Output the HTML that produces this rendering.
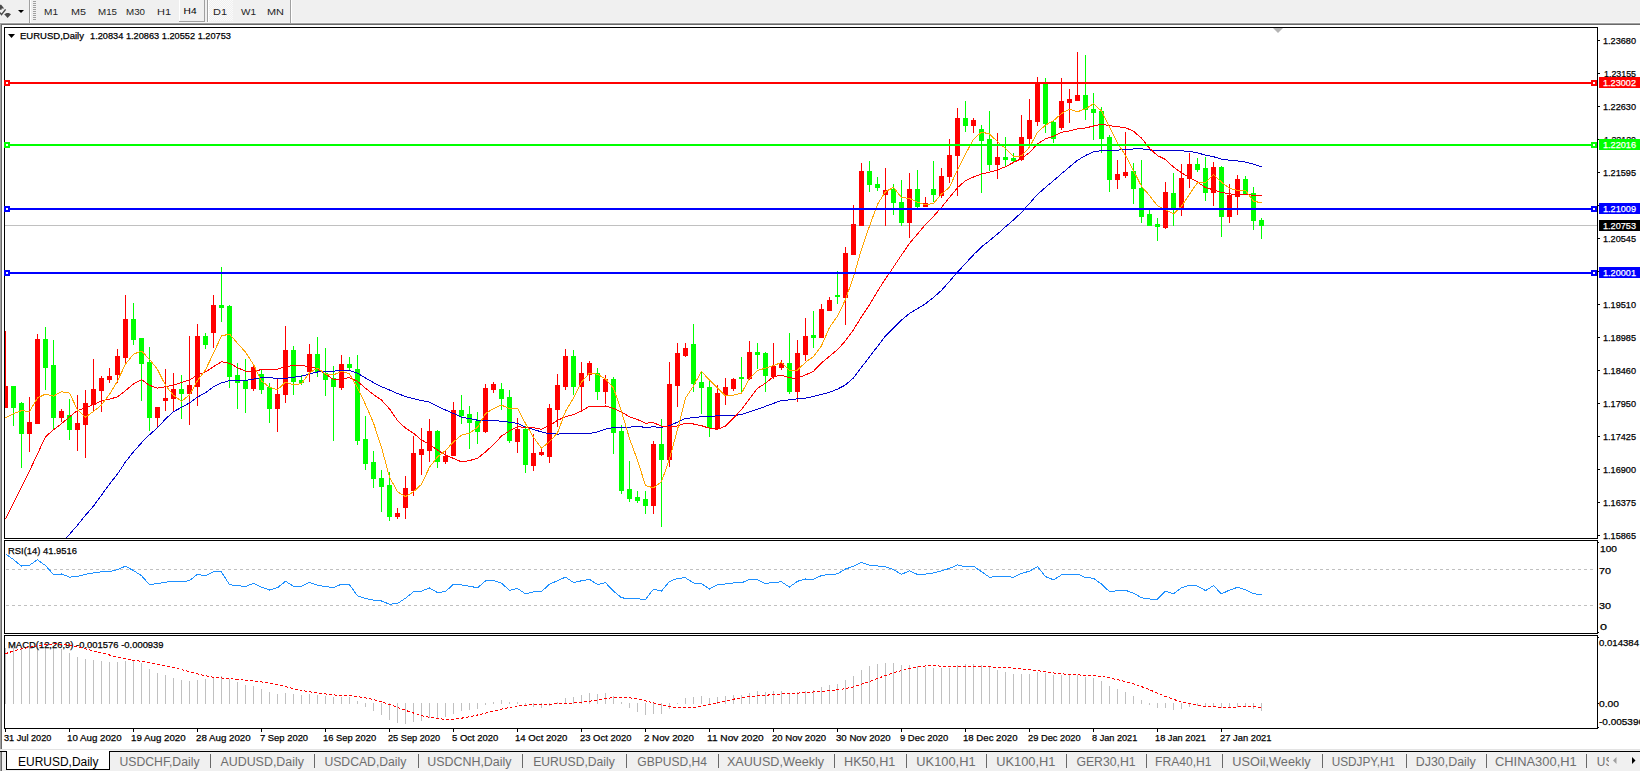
<!DOCTYPE html>
<html><head><meta charset="utf-8"><title>EURUSD,Daily</title>
<style>html,body{margin:0;padding:0;background:#f0f0f0;overflow:hidden;width:1640px;height:771px} svg{display:block} text{font-family:"Liberation Sans", sans-serif;}</style>
</head><body>
<svg width="1640" height="771" viewBox="0 0 1640 771" font-family='"Liberation Sans", sans-serif'><rect x="0" y="0" width="1640" height="771" fill="#f0f0f0"/>
<rect x="0" y="22" width="1640" height="1" fill="#f8f8f8"/>
<rect x="0" y="23" width="1640" height="1" fill="#a0a0a0"/>
<rect x="1" y="24" width="1639" height="1" fill="#696969"/>
<rect x="2" y="25" width="1638" height="724" fill="#ffffff"/>
<rect x="0" y="23" width="1" height="726" fill="#a0a0a0"/>
<rect x="1" y="24" width="1" height="725" fill="#696969"/>
<rect x="0" y="749" width="1640" height="1" fill="#e3e3e3"/>
<path d="M0 4.8 L1.2 4.8 L4.2 8.6 L1.6 8.6 L1.6 9.8 L0 9.8 Z" fill="#4a4a4a"/>
<path d="M0 12.6 L1.5 14.6 L5.6 9.4" stroke="#4a4a4a" stroke-width="1.5" fill="none"/>
<path d="M4.2 14.2 L6.6 13.1 L8.8 13.1 L11 14.2 L7.6 18 Z" fill="#4a4a4a"/>
<path d="M18 10 L24 10 L21 13 Z" fill="#000"/>
<rect x="29" y="0" width="1" height="23" fill="#a0a0a0"/>
<rect x="30" y="0" width="1" height="23" fill="#ffffff"/>
<rect x="33" y="1" width="3" height="1" fill="#a0a0a0"/>
<rect x="33" y="3" width="3" height="1" fill="#a0a0a0"/>
<rect x="33" y="5" width="3" height="1" fill="#a0a0a0"/>
<rect x="33" y="7" width="3" height="1" fill="#a0a0a0"/>
<rect x="33" y="9" width="3" height="1" fill="#a0a0a0"/>
<rect x="33" y="11" width="3" height="1" fill="#a0a0a0"/>
<rect x="33" y="13" width="3" height="1" fill="#a0a0a0"/>
<rect x="33" y="15" width="3" height="1" fill="#a0a0a0"/>
<rect x="33" y="17" width="3" height="1" fill="#a0a0a0"/>
<rect x="33" y="19" width="3" height="1" fill="#a0a0a0"/>
<rect x="179" y="0" width="26" height="22" fill="#f0f0f0"/>
<rect x="179" y="0" width="1" height="22" fill="#ffffff"/>
<rect x="204" y="0" width="1" height="22" fill="#a0a0a0"/>
<rect x="179" y="21" width="26" height="1" fill="#a0a0a0"/>
<rect x="207" y="0" width="1" height="22" fill="#a0a0a0"/>
<rect x="208" y="0" width="1" height="22" fill="#ffffff"/>
<defs><pattern id="chk" width="2" height="2" patternUnits="userSpaceOnUse"><rect width="2" height="2" fill="#f0f0f0"/><rect width="1" height="1" fill="#fafafa"/><rect x="1" y="1" width="1" height="1" fill="#fafafa"/></pattern>
<clipPath id="mainclip"><rect x="5" y="28" width="1592" height="510"/></clipPath>
<clipPath id="rsiclip"><rect x="5" y="541" width="1592" height="92"/></clipPath>
<clipPath id="macdclip"><rect x="5" y="636" width="1592" height="92"/></clipPath>
<clipPath id="tabclip"><rect x="0" y="752" width="1609" height="19"/></clipPath>
</defs>
<rect x="209" y="0" width="24" height="21" fill="url(#chk)"/>
<rect x="290" y="0" width="1" height="23" fill="#a0a0a0"/>
<rect x="291" y="0" width="1" height="23" fill="#ffffff"/>
<text x="44.00" y="15.00" font-size="9.8" fill="#262626" stroke="#262626" stroke-width="0" textLength="14.00" lengthAdjust="spacingAndGlyphs">M1</text>
<text x="71.00" y="15.00" font-size="9.8" fill="#262626" stroke="#262626" stroke-width="0" textLength="15.00" lengthAdjust="spacingAndGlyphs">M5</text>
<text x="98.00" y="15.00" font-size="9.8" fill="#262626" stroke="#262626" stroke-width="0" textLength="19.00" lengthAdjust="spacingAndGlyphs">M15</text>
<text x="126.00" y="15.00" font-size="9.8" fill="#262626" stroke="#262626" stroke-width="0" textLength="19.00" lengthAdjust="spacingAndGlyphs">M30</text>
<text x="157.00" y="15.00" font-size="9.8" fill="#262626" stroke="#262626" stroke-width="0" textLength="14.00" lengthAdjust="spacingAndGlyphs">H1</text>
<text x="213.00" y="15.00" font-size="9.8" fill="#262626" stroke="#262626" stroke-width="0" textLength="14.00" lengthAdjust="spacingAndGlyphs">D1</text>
<text x="241.00" y="15.00" font-size="9.8" fill="#262626" stroke="#262626" stroke-width="0" textLength="15.00" lengthAdjust="spacingAndGlyphs">W1</text>
<text x="267.00" y="15.00" font-size="9.8" fill="#262626" stroke="#262626" stroke-width="0" textLength="17.00" lengthAdjust="spacingAndGlyphs">MN</text>
<text x="183.60" y="14.00" font-size="9.8" fill="#000" stroke="#000" stroke-width="0" textLength="13.00" lengthAdjust="spacingAndGlyphs">H4</text>
<rect x="4" y="27" width="1594" height="1" fill="#000"/>
<rect x="4" y="538" width="1594" height="1" fill="#000"/>
<rect x="4" y="27" width="1" height="512" fill="#000"/>
<rect x="1597" y="27" width="1" height="512" fill="#000"/>
<rect x="4" y="540" width="1594" height="1" fill="#000"/>
<rect x="4" y="633" width="1594" height="1" fill="#000"/>
<rect x="4" y="540" width="1" height="94" fill="#000"/>
<rect x="1597" y="540" width="1" height="94" fill="#000"/>
<rect x="4" y="635" width="1594" height="1" fill="#000"/>
<rect x="4" y="728" width="1594" height="1" fill="#000"/>
<rect x="4" y="635" width="1" height="94" fill="#000"/>
<rect x="1597" y="635" width="1" height="94" fill="#000"/>
<rect x="1598" y="40" width="2" height="1" fill="#000"/>
<text x="1603.00" y="44.00" font-size="9.8" fill="#000" stroke="#000" stroke-width="0.25" textLength="33.00" lengthAdjust="spacingAndGlyphs">1.23680</text>
<rect x="1598" y="73" width="2" height="1" fill="#000"/>
<text x="1604.00" y="77.00" font-size="9.8" fill="#000" stroke="#000" stroke-width="0.25" textLength="32.00" lengthAdjust="spacingAndGlyphs">1.23155</text>
<rect x="1598" y="106" width="2" height="1" fill="#000"/>
<text x="1603.00" y="110.00" font-size="9.8" fill="#000" stroke="#000" stroke-width="0.25" textLength="33.00" lengthAdjust="spacingAndGlyphs">1.22630</text>
<rect x="1598" y="139" width="2" height="1" fill="#000"/>
<text x="1604.00" y="143.00" font-size="9.8" fill="#000" stroke="#000" stroke-width="0.25" textLength="32.00" lengthAdjust="spacingAndGlyphs">1.22120</text>
<rect x="1598" y="172" width="2" height="1" fill="#000"/>
<text x="1603.00" y="176.00" font-size="9.8" fill="#000" stroke="#000" stroke-width="0.25" textLength="33.00" lengthAdjust="spacingAndGlyphs">1.21595</text>
<rect x="1598" y="205" width="2" height="1" fill="#000"/>
<text x="1604.00" y="209.00" font-size="9.8" fill="#000" stroke="#000" stroke-width="0.25" textLength="32.00" lengthAdjust="spacingAndGlyphs">1.21085</text>
<rect x="1598" y="238" width="2" height="1" fill="#000"/>
<text x="1603.00" y="242.00" font-size="9.8" fill="#000" stroke="#000" stroke-width="0.25" textLength="33.00" lengthAdjust="spacingAndGlyphs">1.20545</text>
<rect x="1598" y="271" width="2" height="1" fill="#000"/>
<text x="1604.00" y="275.00" font-size="9.8" fill="#000" stroke="#000" stroke-width="0.25" textLength="32.00" lengthAdjust="spacingAndGlyphs">1.20035</text>
<rect x="1598" y="304" width="2" height="1" fill="#000"/>
<text x="1603.00" y="308.00" font-size="9.8" fill="#000" stroke="#000" stroke-width="0.25" textLength="33.00" lengthAdjust="spacingAndGlyphs">1.19510</text>
<rect x="1598" y="337" width="2" height="1" fill="#000"/>
<text x="1603.00" y="341.00" font-size="9.8" fill="#000" stroke="#000" stroke-width="0.25" textLength="33.00" lengthAdjust="spacingAndGlyphs">1.18985</text>
<rect x="1598" y="370" width="2" height="1" fill="#000"/>
<text x="1603.00" y="374.00" font-size="9.8" fill="#000" stroke="#000" stroke-width="0.25" textLength="33.00" lengthAdjust="spacingAndGlyphs">1.18460</text>
<rect x="1598" y="403" width="2" height="1" fill="#000"/>
<text x="1603.00" y="407.00" font-size="9.8" fill="#000" stroke="#000" stroke-width="0.25" textLength="33.00" lengthAdjust="spacingAndGlyphs">1.17950</text>
<rect x="1598" y="436" width="2" height="1" fill="#000"/>
<text x="1603.00" y="440.00" font-size="9.8" fill="#000" stroke="#000" stroke-width="0.25" textLength="33.00" lengthAdjust="spacingAndGlyphs">1.17425</text>
<rect x="1598" y="469" width="2" height="1" fill="#000"/>
<text x="1603.00" y="473.00" font-size="9.8" fill="#000" stroke="#000" stroke-width="0.25" textLength="33.00" lengthAdjust="spacingAndGlyphs">1.16900</text>
<rect x="1598" y="502" width="2" height="1" fill="#000"/>
<text x="1603.00" y="506.00" font-size="9.8" fill="#000" stroke="#000" stroke-width="0.25" textLength="33.00" lengthAdjust="spacingAndGlyphs">1.16375</text>
<rect x="1598" y="535" width="2" height="1" fill="#000"/>
<text x="1603.00" y="539.00" font-size="9.8" fill="#000" stroke="#000" stroke-width="0.25" textLength="33.00" lengthAdjust="spacingAndGlyphs">1.15865</text>
<rect x="5" y="225" width="1592" height="1" fill="#c0c0c0"/>
<rect x="1599" y="220" width="41" height="11" fill="#000"/>
<text x="1603.00" y="229.00" font-size="9.8" fill="#fff" stroke="#fff" stroke-width="0.25" textLength="33.00" lengthAdjust="spacingAndGlyphs">1.20753</text>
<path d="M8 34 L15 34 L11.5 38 Z" fill="#000"/>
<text x="20.00" y="39.00" font-size="9.8" fill="#000" stroke="#000" stroke-width="0.25" textLength="64.00" lengthAdjust="spacingAndGlyphs">EURUSD,Daily</text>
<text x="90.00" y="39.00" font-size="9.8" fill="#000" stroke="#000" stroke-width="0.25" textLength="141.00" lengthAdjust="spacingAndGlyphs">1.20834 1.20863 1.20552 1.20753</text>
<path d="M1273 28 L1283 28 L1278 33 Z" fill="#b4b4b4"/>
<g clip-path="url(#mainclip)" shape-rendering="crispEdges">
<rect x="5" y="331" width="1" height="77" fill="#ff0000"/>
<rect x="3" y="386" width="5" height="22" fill="#ff0000"/>
<rect x="13" y="386" width="1" height="40" fill="#00ff00"/>
<rect x="11" y="386" width="5" height="22" fill="#00ff00"/>
<rect x="21" y="402" width="1" height="66" fill="#00ff00"/>
<rect x="19" y="403" width="5" height="31" fill="#00ff00"/>
<rect x="29" y="397" width="1" height="55" fill="#ff0000"/>
<rect x="27" y="422" width="5" height="12" fill="#ff0000"/>
<rect x="37" y="334" width="1" height="90" fill="#ff0000"/>
<rect x="35" y="339" width="5" height="85" fill="#ff0000"/>
<rect x="45" y="327" width="1" height="63" fill="#00ff00"/>
<rect x="43" y="339" width="5" height="29" fill="#00ff00"/>
<rect x="53" y="340" width="1" height="89" fill="#00ff00"/>
<rect x="51" y="365" width="5" height="53" fill="#00ff00"/>
<rect x="61" y="409" width="1" height="13" fill="#ff0000"/>
<rect x="59" y="411" width="5" height="7" fill="#ff0000"/>
<rect x="69" y="399" width="1" height="41" fill="#00ff00"/>
<rect x="67" y="415" width="5" height="15" fill="#00ff00"/>
<rect x="77" y="395" width="1" height="56" fill="#ff0000"/>
<rect x="75" y="423" width="5" height="7" fill="#ff0000"/>
<rect x="85" y="390" width="1" height="68" fill="#ff0000"/>
<rect x="83" y="403" width="5" height="22" fill="#ff0000"/>
<rect x="93" y="359" width="1" height="53" fill="#ff0000"/>
<rect x="91" y="389" width="5" height="16" fill="#ff0000"/>
<rect x="101" y="376" width="1" height="36" fill="#ff0000"/>
<rect x="99" y="378" width="5" height="13" fill="#ff0000"/>
<rect x="109" y="368" width="1" height="15" fill="#ff0000"/>
<rect x="107" y="376" width="5" height="4" fill="#ff0000"/>
<rect x="117" y="349" width="1" height="34" fill="#ff0000"/>
<rect x="115" y="356" width="5" height="19" fill="#ff0000"/>
<rect x="125" y="295" width="1" height="70" fill="#ff0000"/>
<rect x="123" y="319" width="5" height="39" fill="#ff0000"/>
<rect x="133" y="303" width="1" height="42" fill="#00ff00"/>
<rect x="131" y="319" width="5" height="21" fill="#00ff00"/>
<rect x="141" y="338" width="1" height="63" fill="#00ff00"/>
<rect x="139" y="338" width="5" height="26" fill="#00ff00"/>
<rect x="149" y="347" width="1" height="84" fill="#00ff00"/>
<rect x="147" y="362" width="5" height="56" fill="#00ff00"/>
<rect x="157" y="407" width="1" height="20" fill="#ff0000"/>
<rect x="155" y="407" width="5" height="11" fill="#ff0000"/>
<rect x="165" y="369" width="1" height="42" fill="#ff0000"/>
<rect x="163" y="398" width="5" height="3" fill="#ff0000"/>
<rect x="173" y="373" width="1" height="38" fill="#ff0000"/>
<rect x="171" y="389" width="5" height="10" fill="#ff0000"/>
<rect x="181" y="375" width="1" height="44" fill="#00ff00"/>
<rect x="179" y="389" width="5" height="5" fill="#00ff00"/>
<rect x="189" y="336" width="1" height="89" fill="#ff0000"/>
<rect x="187" y="385" width="5" height="9" fill="#ff0000"/>
<rect x="197" y="324" width="1" height="82" fill="#ff0000"/>
<rect x="195" y="336" width="5" height="51" fill="#ff0000"/>
<rect x="205" y="333" width="1" height="16" fill="#00ff00"/>
<rect x="203" y="336" width="5" height="9" fill="#00ff00"/>
<rect x="213" y="295" width="1" height="53" fill="#ff0000"/>
<rect x="211" y="305" width="5" height="28" fill="#ff0000"/>
<rect x="221" y="267" width="1" height="55" fill="#00ff00"/>
<rect x="219" y="305" width="5" height="3" fill="#00ff00"/>
<rect x="229" y="305" width="1" height="83" fill="#00ff00"/>
<rect x="227" y="306" width="5" height="71" fill="#00ff00"/>
<rect x="237" y="363" width="1" height="46" fill="#00ff00"/>
<rect x="235" y="375" width="5" height="8" fill="#00ff00"/>
<rect x="245" y="359" width="1" height="54" fill="#00ff00"/>
<rect x="243" y="381" width="5" height="8" fill="#00ff00"/>
<rect x="253" y="365" width="1" height="26" fill="#ff0000"/>
<rect x="251" y="367" width="5" height="22" fill="#ff0000"/>
<rect x="261" y="370" width="1" height="24" fill="#00ff00"/>
<rect x="259" y="374" width="5" height="16" fill="#00ff00"/>
<rect x="269" y="383" width="1" height="40" fill="#00ff00"/>
<rect x="267" y="387" width="5" height="22" fill="#00ff00"/>
<rect x="277" y="379" width="1" height="53" fill="#ff0000"/>
<rect x="275" y="394" width="5" height="15" fill="#ff0000"/>
<rect x="285" y="326" width="1" height="77" fill="#ff0000"/>
<rect x="283" y="350" width="5" height="45" fill="#ff0000"/>
<rect x="293" y="346" width="1" height="49" fill="#00ff00"/>
<rect x="291" y="350" width="5" height="32" fill="#00ff00"/>
<rect x="301" y="375" width="1" height="10" fill="#00ff00"/>
<rect x="299" y="380" width="5" height="3" fill="#00ff00"/>
<rect x="309" y="344" width="1" height="38" fill="#ff0000"/>
<rect x="307" y="354" width="5" height="18" fill="#ff0000"/>
<rect x="317" y="337" width="1" height="40" fill="#00ff00"/>
<rect x="315" y="354" width="5" height="18" fill="#00ff00"/>
<rect x="325" y="348" width="1" height="48" fill="#00ff00"/>
<rect x="323" y="373" width="5" height="7" fill="#00ff00"/>
<rect x="333" y="366" width="1" height="75" fill="#00ff00"/>
<rect x="331" y="378" width="5" height="9" fill="#00ff00"/>
<rect x="341" y="355" width="1" height="35" fill="#ff0000"/>
<rect x="339" y="364" width="5" height="24" fill="#ff0000"/>
<rect x="349" y="357" width="1" height="13" fill="#00ff00"/>
<rect x="347" y="364" width="5" height="4" fill="#00ff00"/>
<rect x="357" y="355" width="1" height="90" fill="#00ff00"/>
<rect x="355" y="369" width="5" height="72" fill="#00ff00"/>
<rect x="365" y="416" width="1" height="54" fill="#00ff00"/>
<rect x="363" y="439" width="5" height="25" fill="#00ff00"/>
<rect x="373" y="451" width="1" height="37" fill="#00ff00"/>
<rect x="371" y="462" width="5" height="17" fill="#00ff00"/>
<rect x="381" y="470" width="1" height="42" fill="#00ff00"/>
<rect x="379" y="478" width="5" height="9" fill="#00ff00"/>
<rect x="389" y="472" width="1" height="49" fill="#00ff00"/>
<rect x="387" y="485" width="5" height="32" fill="#00ff00"/>
<rect x="397" y="508" width="1" height="11" fill="#ff0000"/>
<rect x="395" y="513" width="5" height="4" fill="#ff0000"/>
<rect x="405" y="476" width="1" height="43" fill="#ff0000"/>
<rect x="403" y="488" width="5" height="20" fill="#ff0000"/>
<rect x="413" y="436" width="1" height="60" fill="#ff0000"/>
<rect x="411" y="453" width="5" height="38" fill="#ff0000"/>
<rect x="421" y="428" width="1" height="47" fill="#ff0000"/>
<rect x="419" y="449" width="5" height="6" fill="#ff0000"/>
<rect x="429" y="419" width="1" height="43" fill="#ff0000"/>
<rect x="427" y="431" width="5" height="20" fill="#ff0000"/>
<rect x="437" y="430" width="1" height="38" fill="#00ff00"/>
<rect x="435" y="431" width="5" height="31" fill="#00ff00"/>
<rect x="445" y="450" width="1" height="14" fill="#ff0000"/>
<rect x="443" y="456" width="5" height="6" fill="#ff0000"/>
<rect x="453" y="402" width="1" height="54" fill="#ff0000"/>
<rect x="451" y="410" width="5" height="46" fill="#ff0000"/>
<rect x="461" y="395" width="1" height="29" fill="#00ff00"/>
<rect x="459" y="410" width="5" height="6" fill="#00ff00"/>
<rect x="469" y="406" width="1" height="43" fill="#00ff00"/>
<rect x="467" y="414" width="5" height="9" fill="#00ff00"/>
<rect x="477" y="412" width="1" height="32" fill="#00ff00"/>
<rect x="475" y="421" width="5" height="11" fill="#00ff00"/>
<rect x="485" y="384" width="1" height="49" fill="#ff0000"/>
<rect x="483" y="388" width="5" height="44" fill="#ff0000"/>
<rect x="493" y="382" width="1" height="11" fill="#ff0000"/>
<rect x="491" y="384" width="5" height="6" fill="#ff0000"/>
<rect x="501" y="383" width="1" height="27" fill="#00ff00"/>
<rect x="499" y="389" width="5" height="10" fill="#00ff00"/>
<rect x="509" y="390" width="1" height="53" fill="#00ff00"/>
<rect x="507" y="397" width="5" height="44" fill="#00ff00"/>
<rect x="517" y="418" width="1" height="35" fill="#ff0000"/>
<rect x="515" y="429" width="5" height="13" fill="#ff0000"/>
<rect x="525" y="426" width="1" height="47" fill="#00ff00"/>
<rect x="523" y="429" width="5" height="36" fill="#00ff00"/>
<rect x="533" y="434" width="1" height="37" fill="#ff0000"/>
<rect x="531" y="453" width="5" height="13" fill="#ff0000"/>
<rect x="541" y="447" width="1" height="9" fill="#ff0000"/>
<rect x="539" y="452" width="5" height="3" fill="#ff0000"/>
<rect x="549" y="404" width="1" height="59" fill="#ff0000"/>
<rect x="547" y="408" width="5" height="49" fill="#ff0000"/>
<rect x="557" y="374" width="1" height="53" fill="#ff0000"/>
<rect x="555" y="385" width="5" height="25" fill="#ff0000"/>
<rect x="565" y="349" width="1" height="41" fill="#ff0000"/>
<rect x="563" y="356" width="5" height="31" fill="#ff0000"/>
<rect x="573" y="350" width="1" height="45" fill="#00ff00"/>
<rect x="571" y="356" width="5" height="31" fill="#00ff00"/>
<rect x="581" y="362" width="1" height="48" fill="#ff0000"/>
<rect x="579" y="373" width="5" height="14" fill="#ff0000"/>
<rect x="589" y="361" width="1" height="20" fill="#ff0000"/>
<rect x="587" y="363" width="5" height="12" fill="#ff0000"/>
<rect x="597" y="368" width="1" height="32" fill="#00ff00"/>
<rect x="595" y="373" width="5" height="19" fill="#00ff00"/>
<rect x="605" y="375" width="1" height="29" fill="#ff0000"/>
<rect x="603" y="379" width="5" height="13" fill="#ff0000"/>
<rect x="613" y="377" width="1" height="77" fill="#00ff00"/>
<rect x="611" y="379" width="5" height="54" fill="#00ff00"/>
<rect x="621" y="425" width="1" height="69" fill="#00ff00"/>
<rect x="619" y="431" width="5" height="60" fill="#00ff00"/>
<rect x="629" y="461" width="1" height="41" fill="#00ff00"/>
<rect x="627" y="489" width="5" height="10" fill="#00ff00"/>
<rect x="637" y="491" width="1" height="12" fill="#00ff00"/>
<rect x="635" y="497" width="5" height="4" fill="#00ff00"/>
<rect x="645" y="491" width="1" height="23" fill="#00ff00"/>
<rect x="643" y="499" width="5" height="7" fill="#00ff00"/>
<rect x="653" y="441" width="1" height="73" fill="#ff0000"/>
<rect x="651" y="444" width="5" height="62" fill="#ff0000"/>
<rect x="661" y="419" width="1" height="108" fill="#00ff00"/>
<rect x="659" y="444" width="5" height="16" fill="#00ff00"/>
<rect x="669" y="362" width="1" height="105" fill="#ff0000"/>
<rect x="667" y="384" width="5" height="76" fill="#ff0000"/>
<rect x="677" y="343" width="1" height="64" fill="#ff0000"/>
<rect x="675" y="353" width="5" height="33" fill="#ff0000"/>
<rect x="685" y="343" width="1" height="14" fill="#ff0000"/>
<rect x="683" y="348" width="5" height="8" fill="#ff0000"/>
<rect x="693" y="324" width="1" height="68" fill="#00ff00"/>
<rect x="691" y="344" width="5" height="40" fill="#00ff00"/>
<rect x="701" y="372" width="1" height="42" fill="#00ff00"/>
<rect x="699" y="382" width="5" height="6" fill="#00ff00"/>
<rect x="709" y="379" width="1" height="58" fill="#00ff00"/>
<rect x="707" y="387" width="5" height="41" fill="#00ff00"/>
<rect x="717" y="385" width="1" height="45" fill="#ff0000"/>
<rect x="715" y="393" width="5" height="36" fill="#ff0000"/>
<rect x="725" y="378" width="1" height="27" fill="#ff0000"/>
<rect x="723" y="387" width="5" height="8" fill="#ff0000"/>
<rect x="733" y="378" width="1" height="13" fill="#ff0000"/>
<rect x="731" y="379" width="5" height="10" fill="#ff0000"/>
<rect x="741" y="357" width="1" height="36" fill="#00ff00"/>
<rect x="739" y="377" width="5" height="2" fill="#00ff00"/>
<rect x="749" y="341" width="1" height="39" fill="#ff0000"/>
<rect x="747" y="352" width="5" height="27" fill="#ff0000"/>
<rect x="757" y="343" width="1" height="26" fill="#00ff00"/>
<rect x="755" y="352" width="5" height="3" fill="#00ff00"/>
<rect x="765" y="352" width="1" height="40" fill="#00ff00"/>
<rect x="763" y="353" width="5" height="23" fill="#00ff00"/>
<rect x="773" y="343" width="1" height="36" fill="#ff0000"/>
<rect x="771" y="366" width="5" height="11" fill="#ff0000"/>
<rect x="781" y="360" width="1" height="10" fill="#ff0000"/>
<rect x="779" y="363" width="5" height="5" fill="#ff0000"/>
<rect x="789" y="333" width="1" height="61" fill="#00ff00"/>
<rect x="787" y="363" width="5" height="29" fill="#00ff00"/>
<rect x="797" y="340" width="1" height="62" fill="#ff0000"/>
<rect x="795" y="353" width="5" height="39" fill="#ff0000"/>
<rect x="805" y="318" width="1" height="43" fill="#ff0000"/>
<rect x="803" y="336" width="5" height="19" fill="#ff0000"/>
<rect x="813" y="311" width="1" height="37" fill="#00ff00"/>
<rect x="811" y="335" width="5" height="3" fill="#00ff00"/>
<rect x="821" y="304" width="1" height="34" fill="#ff0000"/>
<rect x="819" y="309" width="5" height="29" fill="#ff0000"/>
<rect x="829" y="297" width="1" height="14" fill="#ff0000"/>
<rect x="827" y="300" width="5" height="11" fill="#ff0000"/>
<rect x="837" y="271" width="1" height="33" fill="#00ff00"/>
<rect x="835" y="295" width="5" height="2" fill="#00ff00"/>
<rect x="845" y="247" width="1" height="78" fill="#ff0000"/>
<rect x="843" y="253" width="5" height="45" fill="#ff0000"/>
<rect x="853" y="205" width="1" height="50" fill="#ff0000"/>
<rect x="851" y="224" width="5" height="31" fill="#ff0000"/>
<rect x="861" y="163" width="1" height="63" fill="#ff0000"/>
<rect x="859" y="171" width="5" height="55" fill="#ff0000"/>
<rect x="869" y="161" width="1" height="31" fill="#00ff00"/>
<rect x="867" y="171" width="5" height="14" fill="#00ff00"/>
<rect x="877" y="177" width="1" height="14" fill="#00ff00"/>
<rect x="875" y="184" width="5" height="4" fill="#00ff00"/>
<rect x="885" y="168" width="1" height="58" fill="#ff0000"/>
<rect x="883" y="190" width="5" height="5" fill="#ff0000"/>
<rect x="893" y="184" width="1" height="31" fill="#00ff00"/>
<rect x="891" y="189" width="5" height="14" fill="#00ff00"/>
<rect x="901" y="180" width="1" height="46" fill="#00ff00"/>
<rect x="899" y="202" width="5" height="21" fill="#00ff00"/>
<rect x="909" y="173" width="1" height="65" fill="#ff0000"/>
<rect x="907" y="189" width="5" height="34" fill="#ff0000"/>
<rect x="917" y="170" width="1" height="39" fill="#00ff00"/>
<rect x="915" y="189" width="5" height="18" fill="#00ff00"/>
<rect x="925" y="197" width="1" height="10" fill="#ff0000"/>
<rect x="923" y="203" width="5" height="4" fill="#ff0000"/>
<rect x="933" y="161" width="1" height="41" fill="#00ff00"/>
<rect x="931" y="189" width="5" height="6" fill="#00ff00"/>
<rect x="941" y="168" width="1" height="30" fill="#ff0000"/>
<rect x="939" y="176" width="5" height="20" fill="#ff0000"/>
<rect x="949" y="139" width="1" height="44" fill="#ff0000"/>
<rect x="947" y="155" width="5" height="22" fill="#ff0000"/>
<rect x="957" y="108" width="1" height="88" fill="#ff0000"/>
<rect x="955" y="118" width="5" height="38" fill="#ff0000"/>
<rect x="965" y="101" width="1" height="31" fill="#00ff00"/>
<rect x="963" y="118" width="5" height="8" fill="#00ff00"/>
<rect x="973" y="118" width="1" height="15" fill="#ff0000"/>
<rect x="971" y="120" width="5" height="6" fill="#ff0000"/>
<rect x="981" y="125" width="1" height="68" fill="#00ff00"/>
<rect x="979" y="129" width="5" height="12" fill="#00ff00"/>
<rect x="989" y="111" width="1" height="60" fill="#00ff00"/>
<rect x="987" y="139" width="5" height="26" fill="#00ff00"/>
<rect x="997" y="133" width="1" height="46" fill="#ff0000"/>
<rect x="995" y="157" width="5" height="8" fill="#ff0000"/>
<rect x="1005" y="137" width="1" height="29" fill="#00ff00"/>
<rect x="1003" y="157" width="5" height="3" fill="#00ff00"/>
<rect x="1013" y="153" width="1" height="9" fill="#00ff00"/>
<rect x="1011" y="158" width="5" height="3" fill="#00ff00"/>
<rect x="1021" y="115" width="1" height="46" fill="#ff0000"/>
<rect x="1019" y="137" width="5" height="23" fill="#ff0000"/>
<rect x="1029" y="99" width="1" height="46" fill="#ff0000"/>
<rect x="1027" y="120" width="5" height="19" fill="#ff0000"/>
<rect x="1037" y="77" width="1" height="49" fill="#ff0000"/>
<rect x="1035" y="83" width="5" height="39" fill="#ff0000"/>
<rect x="1045" y="78" width="1" height="55" fill="#00ff00"/>
<rect x="1043" y="83" width="5" height="41" fill="#00ff00"/>
<rect x="1053" y="121" width="1" height="22" fill="#00ff00"/>
<rect x="1051" y="122" width="5" height="17" fill="#00ff00"/>
<rect x="1061" y="78" width="1" height="52" fill="#ff0000"/>
<rect x="1059" y="101" width="5" height="27" fill="#ff0000"/>
<rect x="1069" y="89" width="1" height="34" fill="#ff0000"/>
<rect x="1067" y="99" width="5" height="4" fill="#ff0000"/>
<rect x="1077" y="52" width="1" height="49" fill="#ff0000"/>
<rect x="1075" y="95" width="5" height="6" fill="#ff0000"/>
<rect x="1085" y="55" width="1" height="65" fill="#00ff00"/>
<rect x="1083" y="95" width="5" height="15" fill="#00ff00"/>
<rect x="1093" y="93" width="1" height="47" fill="#00ff00"/>
<rect x="1091" y="109" width="5" height="4" fill="#00ff00"/>
<rect x="1101" y="107" width="1" height="46" fill="#00ff00"/>
<rect x="1099" y="111" width="5" height="28" fill="#00ff00"/>
<rect x="1109" y="135" width="1" height="57" fill="#00ff00"/>
<rect x="1107" y="137" width="5" height="43" fill="#00ff00"/>
<rect x="1117" y="160" width="1" height="29" fill="#ff0000"/>
<rect x="1115" y="174" width="5" height="6" fill="#ff0000"/>
<rect x="1125" y="132" width="1" height="46" fill="#ff0000"/>
<rect x="1123" y="172" width="5" height="4" fill="#ff0000"/>
<rect x="1133" y="163" width="1" height="41" fill="#00ff00"/>
<rect x="1131" y="171" width="5" height="18" fill="#00ff00"/>
<rect x="1141" y="160" width="1" height="63" fill="#00ff00"/>
<rect x="1139" y="188" width="5" height="29" fill="#00ff00"/>
<rect x="1149" y="210" width="1" height="16" fill="#00ff00"/>
<rect x="1147" y="214" width="5" height="12" fill="#00ff00"/>
<rect x="1157" y="218" width="1" height="23" fill="#00ff00"/>
<rect x="1155" y="224" width="5" height="3" fill="#00ff00"/>
<rect x="1165" y="182" width="1" height="47" fill="#ff0000"/>
<rect x="1163" y="192" width="5" height="36" fill="#ff0000"/>
<rect x="1173" y="173" width="1" height="53" fill="#00ff00"/>
<rect x="1171" y="193" width="5" height="16" fill="#00ff00"/>
<rect x="1181" y="164" width="1" height="52" fill="#ff0000"/>
<rect x="1179" y="178" width="5" height="31" fill="#ff0000"/>
<rect x="1189" y="153" width="1" height="35" fill="#ff0000"/>
<rect x="1187" y="164" width="5" height="15" fill="#ff0000"/>
<rect x="1197" y="158" width="1" height="14" fill="#00ff00"/>
<rect x="1195" y="164" width="5" height="6" fill="#00ff00"/>
<rect x="1205" y="157" width="1" height="44" fill="#00ff00"/>
<rect x="1203" y="168" width="5" height="25" fill="#00ff00"/>
<rect x="1213" y="162" width="1" height="44" fill="#ff0000"/>
<rect x="1211" y="167" width="5" height="26" fill="#ff0000"/>
<rect x="1221" y="166" width="1" height="71" fill="#00ff00"/>
<rect x="1219" y="167" width="5" height="50" fill="#00ff00"/>
<rect x="1229" y="184" width="1" height="39" fill="#ff0000"/>
<rect x="1227" y="195" width="5" height="22" fill="#ff0000"/>
<rect x="1237" y="175" width="1" height="40" fill="#ff0000"/>
<rect x="1235" y="179" width="5" height="18" fill="#ff0000"/>
<rect x="1245" y="176" width="1" height="19" fill="#00ff00"/>
<rect x="1243" y="179" width="5" height="15" fill="#00ff00"/>
<rect x="1253" y="187" width="1" height="43" fill="#00ff00"/>
<rect x="1251" y="193" width="5" height="28" fill="#00ff00"/>
<rect x="1261" y="218" width="1" height="21" fill="#00ff00"/>
<rect x="1259" y="220" width="5" height="6" fill="#00ff00"/>
</g>
<g clip-path="url(#mainclip)" shape-rendering="crispEdges">
<polyline points="45.5,562.5 53.5,553.0 61.5,543.5 69.5,534.3 77.5,525.2 85.5,515.2 93.5,506.1 101.5,495.1 109.5,484.0 117.5,474.0 125.5,461.9 133.5,451.8 141.5,442.8 149.5,434.8 157.5,427.7 165.5,419.0 173.5,411.7 181.5,407.3 189.5,402.9 197.5,397.1 205.5,392.7 213.5,386.8 221.5,382.9 229.5,380.7 237.5,380.4 245.5,380.4 253.5,379.1 261.5,377.6 269.5,377.2 277.5,379.0 285.5,378.4 293.5,377.2 301.5,376.3 309.5,373.8 317.5,372.0 325.5,371.2 333.5,371.1 341.5,370.7 349.5,370.4 357.5,373.2 365.5,378.0 373.5,382.6 381.5,386.7 389.5,390.0 397.5,393.5 405.5,396.5 413.5,398.7 421.5,400.5 429.5,402.1 437.5,406.2 445.5,410.0 453.5,413.5 461.5,417.1 469.5,418.6 477.5,420.2 485.5,420.2 493.5,420.8 501.5,421.1 509.5,422.2 517.5,423.3 525.5,427.1 533.5,429.5 541.5,431.9 549.5,433.7 557.5,434.1 565.5,433.4 573.5,433.4 581.5,433.7 589.5,433.5 597.5,431.9 605.5,429.1 613.5,427.6 621.5,427.7 629.5,427.1 637.5,426.7 645.5,427.2 653.5,426.9 661.5,427.3 669.5,425.7 677.5,422.1 685.5,418.5 693.5,417.6 701.5,416.7 709.5,416.8 717.5,415.6 725.5,415.5 733.5,415.4 741.5,414.7 749.5,411.8 757.5,409.3 765.5,406.3 773.5,403.4 781.5,400.4 789.5,399.9 797.5,398.8 805.5,398.1 813.5,396.5 821.5,394.4 829.5,392.3 837.5,389.1 845.5,384.9 853.5,378.0 861.5,367.3 869.5,356.9 877.5,346.4 885.5,335.9 893.5,327.9 901.5,320.0 909.5,313.5 917.5,308.6 925.5,303.7 933.5,297.4 941.5,290.4 949.5,281.3 957.5,272.2 965.5,263.4 973.5,254.8 981.5,246.9 989.5,240.6 997.5,234.0 1005.5,226.8 1013.5,220.0 1021.5,212.4 1029.5,203.4 1037.5,194.4 1045.5,187.3 1053.5,180.7 1061.5,173.7 1069.5,167.0 1077.5,160.3 1085.5,155.5 1093.5,151.8 1101.5,150.7 1109.5,150.5 1117.5,150.1 1125.5,149.5 1133.5,149.0 1141.5,148.8 1149.5,150.0 1157.5,150.7 1165.5,150.3 1173.5,150.8 1181.5,150.9 1189.5,151.2 1197.5,152.9 1205.5,155.1 1213.5,156.7 1221.5,159.2 1229.5,160.2 1237.5,161.0 1245.5,162.1 1253.5,164.1 1261.5,167.0" fill="none" stroke="#0000cd" stroke-width="1"/>
<polyline points="5.5,519.2 13.5,503.1 21.5,487.0 29.5,470.9 37.5,453.9 45.5,436.8 53.5,429.7 61.5,423.7 69.5,416.7 77.5,410.6 85.5,407.6 93.5,404.6 101.5,400.6 109.5,399.1 117.5,396.9 125.5,390.6 133.5,383.9 141.5,379.7 149.5,385.3 157.5,388.1 165.5,386.8 173.5,385.2 181.5,382.6 189.5,379.9 197.5,375.1 205.5,371.9 213.5,366.7 221.5,361.8 229.5,363.2 237.5,367.7 245.5,371.2 253.5,371.5 261.5,369.5 269.5,369.6 277.5,369.3 285.5,366.5 293.5,365.6 301.5,365.4 309.5,366.7 317.5,368.6 325.5,373.9 333.5,379.6 341.5,378.7 349.5,377.6 357.5,381.4 365.5,388.2 373.5,394.6 381.5,400.1 389.5,408.9 397.5,420.5 405.5,428.1 413.5,433.2 421.5,440.0 429.5,444.3 437.5,450.1 445.5,455.1 453.5,458.4 461.5,461.9 469.5,460.6 477.5,458.3 485.5,451.9 493.5,444.6 501.5,436.1 509.5,430.9 517.5,426.7 525.5,427.5 533.5,427.8 541.5,429.3 549.5,425.5 557.5,420.4 565.5,416.6 573.5,414.5 581.5,411.0 589.5,406.1 597.5,406.4 605.5,406.0 613.5,408.4 621.5,412.0 629.5,416.9 637.5,419.5 645.5,423.2 653.5,422.6 661.5,426.3 669.5,426.2 677.5,426.0 685.5,423.3 693.5,424.0 701.5,425.7 709.5,428.3 717.5,429.3 725.5,426.1 733.5,418.1 741.5,409.6 749.5,399.0 757.5,388.2 765.5,383.3 773.5,376.6 781.5,375.1 789.5,377.9 797.5,378.2 805.5,374.9 813.5,371.3 821.5,362.9 829.5,356.2 837.5,349.7 845.5,340.7 853.5,329.7 861.5,316.8 869.5,304.6 877.5,291.2 885.5,278.6 893.5,267.1 901.5,255.1 909.5,243.4 917.5,234.1 925.5,224.5 933.5,216.3 941.5,207.4 949.5,197.4 957.5,187.7 965.5,180.6 973.5,177.0 981.5,173.9 989.5,172.2 997.5,169.9 1005.5,166.8 1013.5,162.4 1021.5,158.6 1029.5,152.5 1037.5,143.9 1045.5,138.9 1053.5,136.1 1061.5,132.3 1069.5,130.9 1077.5,128.8 1085.5,128.0 1093.5,126.0 1101.5,124.1 1109.5,125.7 1117.5,126.8 1125.5,127.6 1133.5,131.3 1141.5,138.1 1149.5,148.3 1157.5,155.6 1165.5,159.5 1173.5,167.1 1181.5,172.8 1189.5,177.7 1197.5,182.0 1205.5,187.7 1213.5,189.8 1221.5,192.4 1229.5,193.9 1237.5,194.4 1245.5,194.8 1253.5,195.1 1261.5,195.1" fill="none" stroke="#ff0000" stroke-width="1"/>
<polyline points="5.5,417.7 13.5,413.6 21.5,410.6 29.5,411.6 37.5,397.9 45.5,394.1 53.5,396.1 61.5,391.7 69.5,393.1 77.5,409.9 85.5,417.1 93.5,411.5 101.5,404.9 109.5,394.3 117.5,380.9 125.5,364.1 133.5,354.1 141.5,351.1 149.5,359.3 157.5,369.5 165.5,385.3 173.5,395.3 181.5,401.3 189.5,394.9 197.5,380.7 205.5,369.9 213.5,353.1 221.5,335.9 229.5,334.1 237.5,343.3 245.5,352.1 253.5,364.5 261.5,380.9 269.5,387.3 277.5,389.7 285.5,382.1 293.5,384.9 301.5,383.5 309.5,372.7 317.5,368.1 325.5,373.9 333.5,374.9 341.5,371.3 349.5,373.9 357.5,387.7 365.5,404.5 373.5,422.9 381.5,447.3 389.5,477.1 397.5,491.7 405.5,496.7 413.5,491.7 421.5,484.3 429.5,467.3 437.5,456.9 445.5,450.5 453.5,441.9 461.5,435.1 469.5,433.3 477.5,427.3 485.5,413.7 493.5,408.5 501.5,405.1 509.5,408.7 517.5,408.3 525.5,423.5 533.5,437.3 541.5,448.1 549.5,441.7 557.5,432.9 565.5,411.3 573.5,397.9 581.5,382.1 589.5,373.1 597.5,374.3 605.5,378.9 613.5,388.1 621.5,411.5 629.5,438.5 637.5,460.3 645.5,485.5 653.5,487.9 661.5,481.7 669.5,458.9 677.5,429.5 685.5,398.1 693.5,385.9 701.5,371.5 709.5,380.1 717.5,388.1 725.5,395.9 733.5,395.1 741.5,393.3 749.5,378.3 757.5,370.5 765.5,368.1 773.5,365.5 781.5,362.5 789.5,370.3 797.5,370.1 805.5,362.3 813.5,356.5 821.5,345.7 829.5,327.5 837.5,316.1 845.5,299.5 853.5,276.9 861.5,249.3 869.5,226.1 877.5,204.3 885.5,191.7 893.5,187.3 901.5,197.5 909.5,198.5 917.5,202.3 925.5,204.9 933.5,203.3 941.5,194.1 949.5,187.3 957.5,169.7 965.5,154.1 973.5,139.3 981.5,132.1 989.5,133.9 997.5,141.7 1005.5,148.5 1013.5,156.5 1021.5,155.9 1029.5,147.1 1037.5,132.3 1045.5,125.1 1053.5,120.7 1061.5,113.5 1069.5,109.3 1077.5,111.7 1085.5,108.9 1093.5,103.7 1101.5,111.1 1109.5,127.1 1117.5,142.9 1125.5,155.5 1133.5,170.7 1141.5,186.3 1149.5,195.5 1157.5,205.9 1165.5,209.9 1173.5,213.9 1181.5,206.3 1189.5,194.1 1197.5,182.7 1205.5,182.7 1213.5,174.5 1221.5,182.1 1229.5,188.3 1237.5,190.3 1245.5,190.5 1253.5,201.1 1261.5,202.9" fill="none" stroke="#ffa500" stroke-width="1"/>
</g>
<rect x="5" y="82" width="1592" height="2" fill="#ff0000"/>
<rect x="4" y="80" width="6" height="6" fill="#ff0000"/>
<rect x="6" y="82" width="2" height="2" fill="#fff"/>
<rect x="1591" y="80" width="6" height="6" fill="#ff0000"/>
<rect x="1593" y="82" width="2" height="2" fill="#fff"/>
<rect x="1599" y="77" width="41" height="11" fill="#ff0000"/>
<text x="1603.00" y="86.00" font-size="9.8" fill="#fff" stroke="#fff" stroke-width="0.25" textLength="33.00" lengthAdjust="spacingAndGlyphs">1.23002</text>
<rect x="5" y="144" width="1592" height="2" fill="#00ff00"/>
<rect x="4" y="142" width="6" height="6" fill="#00ff00"/>
<rect x="6" y="144" width="2" height="2" fill="#fff"/>
<rect x="1591" y="142" width="6" height="6" fill="#00ff00"/>
<rect x="1593" y="144" width="2" height="2" fill="#fff"/>
<rect x="1599" y="139" width="41" height="11" fill="#00ff00"/>
<text x="1603.00" y="148.00" font-size="9.8" fill="#fff" stroke="#fff" stroke-width="0.25" textLength="33.00" lengthAdjust="spacingAndGlyphs">1.22016</text>
<rect x="5" y="208" width="1592" height="2" fill="#0000ff"/>
<rect x="4" y="206" width="6" height="6" fill="#0000ff"/>
<rect x="6" y="208" width="2" height="2" fill="#fff"/>
<rect x="1591" y="206" width="6" height="6" fill="#0000ff"/>
<rect x="1593" y="208" width="2" height="2" fill="#fff"/>
<rect x="1599" y="203" width="41" height="11" fill="#0000ff"/>
<text x="1603.00" y="212.00" font-size="9.8" fill="#fff" stroke="#fff" stroke-width="0.25" textLength="33.00" lengthAdjust="spacingAndGlyphs">1.21009</text>
<rect x="5" y="272" width="1592" height="2" fill="#0000ff"/>
<rect x="4" y="270" width="6" height="6" fill="#0000ff"/>
<rect x="6" y="272" width="2" height="2" fill="#fff"/>
<rect x="1591" y="270" width="6" height="6" fill="#0000ff"/>
<rect x="1593" y="272" width="2" height="2" fill="#fff"/>
<rect x="1599" y="267" width="41" height="11" fill="#0000ff"/>
<text x="1603.00" y="276.00" font-size="9.8" fill="#fff" stroke="#fff" stroke-width="0.25" textLength="33.00" lengthAdjust="spacingAndGlyphs">1.20001</text>
<text x="8.00" y="554.00" font-size="9.8" fill="#000" stroke="#000" stroke-width="0.25" textLength="69.00" lengthAdjust="spacingAndGlyphs">RSI(14) 41.9516</text>
<g shape-rendering="crispEdges">
<line x1="6" y1="569.5" x2="1596" y2="569.5" stroke="#c0c0c0" stroke-dasharray="3,3"/>
<line x1="6" y1="605.5" x2="1596" y2="605.5" stroke="#c0c0c0" stroke-dasharray="3,3"/>
<polyline points="5.5,553.8 13.5,559.6 21.5,566.1 29.5,565.2 37.5,559.7 45.5,565.6 53.5,574.6 61.5,574.0 69.5,577.1 77.5,576.4 85.5,574.3 93.5,572.9 101.5,571.8 109.5,571.6 117.5,569.5 125.5,566.2 133.5,570.6 141.5,575.6 149.5,584.8 157.5,583.5 165.5,582.3 173.5,581.1 181.5,581.8 189.5,580.6 197.5,574.3 205.5,575.9 213.5,571.6 221.5,572.0 229.5,584.7 237.5,585.6 245.5,586.5 253.5,583.4 261.5,587.1 269.5,590.0 277.5,587.7 285.5,581.3 293.5,586.2 301.5,586.4 309.5,582.4 317.5,585.2 325.5,586.5 333.5,587.7 341.5,584.1 349.5,584.7 357.5,595.8 365.5,598.5 373.5,600.2 381.5,601.0 389.5,604.2 397.5,603.5 405.5,598.2 413.5,591.8 421.5,591.1 429.5,588.0 437.5,592.6 445.5,591.6 453.5,584.2 461.5,585.0 469.5,586.2 477.5,587.8 485.5,581.0 493.5,580.5 501.5,583.2 509.5,590.4 517.5,588.5 525.5,593.8 533.5,591.8 541.5,591.6 549.5,584.1 557.5,580.8 565.5,577.1 573.5,582.5 581.5,580.8 589.5,579.4 597.5,584.5 605.5,582.7 613.5,591.0 621.5,597.8 629.5,598.6 637.5,598.8 645.5,599.4 653.5,589.1 661.5,591.1 669.5,581.5 677.5,578.3 685.5,577.8 693.5,583.0 701.5,583.6 709.5,589.0 717.5,584.7 725.5,584.0 733.5,583.0 741.5,582.9 749.5,579.5 757.5,579.9 765.5,583.6 773.5,582.3 781.5,581.9 789.5,587.0 797.5,581.3 805.5,579.0 813.5,579.2 821.5,575.5 829.5,574.4 837.5,573.9 845.5,569.0 853.5,566.3 861.5,562.3 869.5,565.3 877.5,566.0 885.5,566.7 893.5,569.7 901.5,574.4 909.5,570.7 917.5,574.5 925.5,574.1 933.5,573.0 941.5,570.8 949.5,568.4 957.5,564.9 965.5,566.7 973.5,566.2 981.5,571.6 989.5,577.3 997.5,576.3 1005.5,576.8 1013.5,577.1 1021.5,573.5 1029.5,571.1 1037.5,566.7 1045.5,576.6 1053.5,579.8 1061.5,574.9 1069.5,574.7 1077.5,574.1 1085.5,577.5 1093.5,578.2 1101.5,584.1 1109.5,591.7 1117.5,590.7 1125.5,590.3 1133.5,593.2 1141.5,597.7 1149.5,599.0 1157.5,599.2 1165.5,591.1 1173.5,593.9 1181.5,587.7 1189.5,585.1 1197.5,586.1 1205.5,590.6 1213.5,585.7 1221.5,593.9 1229.5,590.1 1237.5,587.3 1245.5,589.7 1253.5,593.8 1261.5,594.6" fill="none" stroke="#1e90ff" stroke-width="1"/>
</g>
<rect x="1598" y="542" width="1" height="1" fill="#000"/>
<rect x="1598" y="632" width="1" height="1" fill="#000"/>
<text x="1600.00" y="552.00" font-size="9.8" fill="#000" stroke="#000" stroke-width="0.25" textLength="17.00" lengthAdjust="spacingAndGlyphs">100</text>
<text x="1599.00" y="574.00" font-size="9.8" fill="#000" stroke="#000" stroke-width="0.25" textLength="12.00" lengthAdjust="spacingAndGlyphs">70</text>
<text x="1599.00" y="609.00" font-size="9.8" fill="#000" stroke="#000" stroke-width="0.25" textLength="12.00" lengthAdjust="spacingAndGlyphs">30</text>
<text x="1600.00" y="630.00" font-size="9.8" fill="#000" stroke="#000" stroke-width="0.25" textLength="7.00" lengthAdjust="spacingAndGlyphs">0</text>
<g clip-path="url(#macdclip)" shape-rendering="crispEdges">
<rect x="5" y="640" width="1" height="64" fill="#c0c0c0"/>
<rect x="13" y="640" width="1" height="64" fill="#c0c0c0"/>
<rect x="21" y="643" width="1" height="61" fill="#c0c0c0"/>
<rect x="29" y="645" width="1" height="59" fill="#c0c0c0"/>
<rect x="37" y="642" width="1" height="62" fill="#c0c0c0"/>
<rect x="45" y="642" width="1" height="62" fill="#c0c0c0"/>
<rect x="53" y="646" width="1" height="58" fill="#c0c0c0"/>
<rect x="61" y="649" width="1" height="55" fill="#c0c0c0"/>
<rect x="69" y="653" width="1" height="51" fill="#c0c0c0"/>
<rect x="77" y="657" width="1" height="47" fill="#c0c0c0"/>
<rect x="85" y="659" width="1" height="45" fill="#c0c0c0"/>
<rect x="93" y="660" width="1" height="44" fill="#c0c0c0"/>
<rect x="101" y="661" width="1" height="43" fill="#c0c0c0"/>
<rect x="109" y="662" width="1" height="42" fill="#c0c0c0"/>
<rect x="117" y="662" width="1" height="42" fill="#c0c0c0"/>
<rect x="125" y="661" width="1" height="43" fill="#c0c0c0"/>
<rect x="133" y="661" width="1" height="43" fill="#c0c0c0"/>
<rect x="141" y="663" width="1" height="41" fill="#c0c0c0"/>
<rect x="149" y="669" width="1" height="35" fill="#c0c0c0"/>
<rect x="157" y="673" width="1" height="31" fill="#c0c0c0"/>
<rect x="165" y="675" width="1" height="29" fill="#c0c0c0"/>
<rect x="173" y="678" width="1" height="26" fill="#c0c0c0"/>
<rect x="181" y="680" width="1" height="24" fill="#c0c0c0"/>
<rect x="189" y="681" width="1" height="23" fill="#c0c0c0"/>
<rect x="197" y="680" width="1" height="24" fill="#c0c0c0"/>
<rect x="205" y="679" width="1" height="25" fill="#c0c0c0"/>
<rect x="213" y="677" width="1" height="27" fill="#c0c0c0"/>
<rect x="221" y="676" width="1" height="28" fill="#c0c0c0"/>
<rect x="229" y="679" width="1" height="25" fill="#c0c0c0"/>
<rect x="237" y="682" width="1" height="22" fill="#c0c0c0"/>
<rect x="245" y="685" width="1" height="19" fill="#c0c0c0"/>
<rect x="253" y="686" width="1" height="18" fill="#c0c0c0"/>
<rect x="261" y="689" width="1" height="15" fill="#c0c0c0"/>
<rect x="269" y="692" width="1" height="12" fill="#c0c0c0"/>
<rect x="277" y="694" width="1" height="10" fill="#c0c0c0"/>
<rect x="285" y="693" width="1" height="11" fill="#c0c0c0"/>
<rect x="293" y="694" width="1" height="10" fill="#c0c0c0"/>
<rect x="301" y="695" width="1" height="9" fill="#c0c0c0"/>
<rect x="309" y="694" width="1" height="10" fill="#c0c0c0"/>
<rect x="317" y="695" width="1" height="9" fill="#c0c0c0"/>
<rect x="325" y="696" width="1" height="8" fill="#c0c0c0"/>
<rect x="333" y="697" width="1" height="7" fill="#c0c0c0"/>
<rect x="341" y="697" width="1" height="7" fill="#c0c0c0"/>
<rect x="349" y="697" width="1" height="7" fill="#c0c0c0"/>
<rect x="357" y="701" width="1" height="3" fill="#c0c0c0"/>
<rect x="365" y="703" width="1" height="4" fill="#c0c0c0"/>
<rect x="373" y="703" width="1" height="8" fill="#c0c0c0"/>
<rect x="381" y="703" width="1" height="12" fill="#c0c0c0"/>
<rect x="389" y="703" width="1" height="17" fill="#c0c0c0"/>
<rect x="397" y="703" width="1" height="20" fill="#c0c0c0"/>
<rect x="405" y="703" width="1" height="21" fill="#c0c0c0"/>
<rect x="413" y="703" width="1" height="19" fill="#c0c0c0"/>
<rect x="421" y="703" width="1" height="18" fill="#c0c0c0"/>
<rect x="429" y="703" width="1" height="15" fill="#c0c0c0"/>
<rect x="437" y="703" width="1" height="15" fill="#c0c0c0"/>
<rect x="445" y="703" width="1" height="14" fill="#c0c0c0"/>
<rect x="453" y="703" width="1" height="11" fill="#c0c0c0"/>
<rect x="461" y="703" width="1" height="8" fill="#c0c0c0"/>
<rect x="469" y="703" width="1" height="7" fill="#c0c0c0"/>
<rect x="477" y="703" width="1" height="6" fill="#c0c0c0"/>
<rect x="485" y="703" width="1" height="2" fill="#c0c0c0"/>
<rect x="493" y="702" width="1" height="2" fill="#c0c0c0"/>
<rect x="501" y="700" width="1" height="4" fill="#c0c0c0"/>
<rect x="509" y="702" width="1" height="2" fill="#c0c0c0"/>
<rect x="517" y="702" width="1" height="2" fill="#c0c0c0"/>
<rect x="525" y="703" width="1" height="3" fill="#c0c0c0"/>
<rect x="533" y="703" width="1" height="4" fill="#c0c0c0"/>
<rect x="541" y="703" width="1" height="5" fill="#c0c0c0"/>
<rect x="549" y="703" width="1" height="3" fill="#c0c0c0"/>
<rect x="557" y="702" width="1" height="2" fill="#c0c0c0"/>
<rect x="565" y="698" width="1" height="6" fill="#c0c0c0"/>
<rect x="573" y="697" width="1" height="7" fill="#c0c0c0"/>
<rect x="581" y="695" width="1" height="9" fill="#c0c0c0"/>
<rect x="589" y="693" width="1" height="11" fill="#c0c0c0"/>
<rect x="597" y="694" width="1" height="10" fill="#c0c0c0"/>
<rect x="605" y="693" width="1" height="11" fill="#c0c0c0"/>
<rect x="613" y="696" width="1" height="8" fill="#c0c0c0"/>
<rect x="621" y="702" width="1" height="2" fill="#c0c0c0"/>
<rect x="629" y="703" width="1" height="5" fill="#c0c0c0"/>
<rect x="637" y="703" width="1" height="9" fill="#c0c0c0"/>
<rect x="645" y="703" width="1" height="12" fill="#c0c0c0"/>
<rect x="653" y="703" width="1" height="11" fill="#c0c0c0"/>
<rect x="661" y="703" width="1" height="11" fill="#c0c0c0"/>
<rect x="669" y="703" width="1" height="6" fill="#c0c0c0"/>
<rect x="677" y="703" width="1" height="1" fill="#c0c0c0"/>
<rect x="685" y="698" width="1" height="6" fill="#c0c0c0"/>
<rect x="693" y="697" width="1" height="7" fill="#c0c0c0"/>
<rect x="701" y="696" width="1" height="8" fill="#c0c0c0"/>
<rect x="709" y="698" width="1" height="6" fill="#c0c0c0"/>
<rect x="717" y="697" width="1" height="7" fill="#c0c0c0"/>
<rect x="725" y="696" width="1" height="8" fill="#c0c0c0"/>
<rect x="733" y="695" width="1" height="9" fill="#c0c0c0"/>
<rect x="741" y="695" width="1" height="9" fill="#c0c0c0"/>
<rect x="749" y="693" width="1" height="11" fill="#c0c0c0"/>
<rect x="757" y="691" width="1" height="13" fill="#c0c0c0"/>
<rect x="765" y="692" width="1" height="12" fill="#c0c0c0"/>
<rect x="773" y="691" width="1" height="13" fill="#c0c0c0"/>
<rect x="781" y="691" width="1" height="13" fill="#c0c0c0"/>
<rect x="789" y="693" width="1" height="11" fill="#c0c0c0"/>
<rect x="797" y="692" width="1" height="12" fill="#c0c0c0"/>
<rect x="805" y="691" width="1" height="13" fill="#c0c0c0"/>
<rect x="813" y="690" width="1" height="14" fill="#c0c0c0"/>
<rect x="821" y="687" width="1" height="17" fill="#c0c0c0"/>
<rect x="829" y="685" width="1" height="19" fill="#c0c0c0"/>
<rect x="837" y="684" width="1" height="20" fill="#c0c0c0"/>
<rect x="845" y="680" width="1" height="24" fill="#c0c0c0"/>
<rect x="853" y="676" width="1" height="28" fill="#c0c0c0"/>
<rect x="861" y="670" width="1" height="34" fill="#c0c0c0"/>
<rect x="869" y="666" width="1" height="38" fill="#c0c0c0"/>
<rect x="877" y="664" width="1" height="40" fill="#c0c0c0"/>
<rect x="885" y="663" width="1" height="41" fill="#c0c0c0"/>
<rect x="893" y="663" width="1" height="41" fill="#c0c0c0"/>
<rect x="901" y="665" width="1" height="39" fill="#c0c0c0"/>
<rect x="909" y="665" width="1" height="39" fill="#c0c0c0"/>
<rect x="917" y="666" width="1" height="38" fill="#c0c0c0"/>
<rect x="925" y="667" width="1" height="37" fill="#c0c0c0"/>
<rect x="933" y="668" width="1" height="36" fill="#c0c0c0"/>
<rect x="941" y="668" width="1" height="36" fill="#c0c0c0"/>
<rect x="949" y="668" width="1" height="36" fill="#c0c0c0"/>
<rect x="957" y="665" width="1" height="39" fill="#c0c0c0"/>
<rect x="965" y="664" width="1" height="40" fill="#c0c0c0"/>
<rect x="973" y="664" width="1" height="40" fill="#c0c0c0"/>
<rect x="981" y="665" width="1" height="39" fill="#c0c0c0"/>
<rect x="989" y="667" width="1" height="37" fill="#c0c0c0"/>
<rect x="997" y="670" width="1" height="34" fill="#c0c0c0"/>
<rect x="1005" y="672" width="1" height="32" fill="#c0c0c0"/>
<rect x="1013" y="674" width="1" height="30" fill="#c0c0c0"/>
<rect x="1021" y="674" width="1" height="30" fill="#c0c0c0"/>
<rect x="1029" y="674" width="1" height="30" fill="#c0c0c0"/>
<rect x="1037" y="672" width="1" height="32" fill="#c0c0c0"/>
<rect x="1045" y="673" width="1" height="31" fill="#c0c0c0"/>
<rect x="1053" y="675" width="1" height="29" fill="#c0c0c0"/>
<rect x="1061" y="675" width="1" height="29" fill="#c0c0c0"/>
<rect x="1069" y="675" width="1" height="29" fill="#c0c0c0"/>
<rect x="1077" y="675" width="1" height="29" fill="#c0c0c0"/>
<rect x="1085" y="677" width="1" height="27" fill="#c0c0c0"/>
<rect x="1093" y="678" width="1" height="26" fill="#c0c0c0"/>
<rect x="1101" y="681" width="1" height="23" fill="#c0c0c0"/>
<rect x="1109" y="686" width="1" height="18" fill="#c0c0c0"/>
<rect x="1117" y="689" width="1" height="15" fill="#c0c0c0"/>
<rect x="1125" y="692" width="1" height="12" fill="#c0c0c0"/>
<rect x="1133" y="696" width="1" height="8" fill="#c0c0c0"/>
<rect x="1141" y="700" width="1" height="4" fill="#c0c0c0"/>
<rect x="1149" y="703" width="1" height="2" fill="#c0c0c0"/>
<rect x="1157" y="703" width="1" height="5" fill="#c0c0c0"/>
<rect x="1165" y="703" width="1" height="5" fill="#c0c0c0"/>
<rect x="1173" y="703" width="1" height="7" fill="#c0c0c0"/>
<rect x="1181" y="703" width="1" height="6" fill="#c0c0c0"/>
<rect x="1189" y="703" width="1" height="4" fill="#c0c0c0"/>
<rect x="1197" y="703" width="1" height="3" fill="#c0c0c0"/>
<rect x="1205" y="703" width="1" height="4" fill="#c0c0c0"/>
<rect x="1213" y="703" width="1" height="3" fill="#c0c0c0"/>
<rect x="1221" y="703" width="1" height="5" fill="#c0c0c0"/>
<rect x="1229" y="703" width="1" height="5" fill="#c0c0c0"/>
<rect x="1237" y="703" width="1" height="4" fill="#c0c0c0"/>
<rect x="1245" y="703" width="1" height="4" fill="#c0c0c0"/>
<rect x="1253" y="703" width="1" height="6" fill="#c0c0c0"/>
<rect x="1261" y="703" width="1" height="8" fill="#c0c0c0"/>
</g>
<rect x="5" y="636" width="160" height="12" fill="#ffffff"/>
<text x="8.00" y="648.00" font-size="9.8" fill="#000" stroke="#000" stroke-width="0.25" textLength="155.60" lengthAdjust="spacingAndGlyphs">MACD(12,26,9) -0.001576 -0.000939</text>
<g clip-path="url(#macdclip)" shape-rendering="crispEdges">
<polyline points="5.5,653.7 13.5,651.0 21.5,648.9 29.5,647.3 37.5,645.7 45.5,644.4 53.5,643.9 61.5,644.1 69.5,645.0 77.5,646.9 85.5,648.9 93.5,650.9 101.5,652.7 109.5,655.0 117.5,657.2 125.5,658.9 133.5,660.2 141.5,661.3 149.5,662.7 157.5,664.2 165.5,665.8 173.5,667.7 181.5,669.6 189.5,671.7 197.5,673.8 205.5,675.8 213.5,677.3 221.5,678.0 229.5,678.7 237.5,679.5 245.5,680.3 253.5,681.0 261.5,681.9 269.5,683.2 277.5,684.9 285.5,686.6 293.5,688.6 301.5,690.4 309.5,691.8 317.5,692.9 325.5,693.9 333.5,694.9 341.5,695.4 349.5,695.7 357.5,696.6 365.5,697.9 373.5,699.6 381.5,701.8 389.5,704.5 397.5,707.4 405.5,710.3 413.5,713.0 421.5,715.6 429.5,717.4 437.5,718.6 445.5,719.3 453.5,719.1 461.5,718.2 469.5,716.7 477.5,715.0 485.5,713.1 493.5,711.1 501.5,709.2 509.5,707.5 517.5,706.0 525.5,705.1 533.5,704.6 541.5,704.4 549.5,704.1 557.5,703.8 565.5,703.4 573.5,703.0 581.5,702.3 589.5,701.3 597.5,700.0 605.5,698.6 613.5,697.5 621.5,697.1 629.5,697.7 637.5,699.0 645.5,700.9 653.5,702.9 661.5,705.0 669.5,706.6 677.5,707.7 685.5,707.9 693.5,707.4 701.5,706.2 709.5,704.8 717.5,702.9 725.5,701.1 733.5,699.2 741.5,697.7 749.5,696.6 757.5,695.8 765.5,695.2 773.5,694.7 781.5,694.0 789.5,693.6 797.5,693.1 805.5,692.6 813.5,692.0 821.5,691.4 829.5,690.8 837.5,689.9 845.5,688.6 853.5,686.9 861.5,684.3 869.5,681.5 877.5,678.5 885.5,675.5 893.5,672.8 901.5,670.6 909.5,668.5 917.5,666.9 925.5,666.0 933.5,665.8 941.5,666.1 949.5,666.5 957.5,666.8 965.5,666.9 973.5,666.8 981.5,666.8 989.5,666.9 997.5,667.2 1005.5,667.5 1013.5,668.1 1021.5,668.9 1029.5,669.8 1037.5,670.7 1045.5,671.8 1053.5,673.0 1061.5,673.8 1069.5,674.5 1077.5,674.9 1085.5,675.2 1093.5,675.6 1101.5,676.4 1109.5,677.9 1117.5,679.7 1125.5,681.6 1133.5,683.8 1141.5,686.6 1149.5,689.7 1157.5,693.1 1165.5,696.4 1173.5,699.4 1181.5,701.9 1189.5,703.8 1197.5,705.2 1205.5,706.3 1213.5,706.8 1221.5,707.2 1229.5,707.2 1237.5,707.0 1245.5,706.8 1253.5,706.8 1261.5,707.2" fill="none" stroke="#ff0000" stroke-width="1" stroke-dasharray="3,2"/>
</g>
<rect x="1598" y="637" width="1" height="1" fill="#000"/>
<rect x="1598" y="703" width="1" height="1" fill="#000"/>
<rect x="1598" y="727" width="1" height="1" fill="#000"/>
<text x="1599.00" y="646.00" font-size="9.8" fill="#000" stroke="#000" stroke-width="0.25" textLength="40.00" lengthAdjust="spacingAndGlyphs">0.014384</text>
<text x="1599.00" y="707.00" font-size="9.8" fill="#000" stroke="#000" stroke-width="0.25" textLength="20.00" lengthAdjust="spacingAndGlyphs">0.00</text>
<text x="1599.00" y="725.00" font-size="9.8" fill="#000" stroke="#000" stroke-width="0.25" textLength="45.00" lengthAdjust="spacingAndGlyphs">-0.005396</text>
<rect x="5" y="729" width="1" height="3" fill="#000"/>
<text x="4.00" y="741.00" font-size="9.8" fill="#000" stroke="#000" stroke-width="0.25" textLength="47.40" lengthAdjust="spacingAndGlyphs">31 Jul 2020</text>
<rect x="69" y="729" width="1" height="3" fill="#000"/>
<text x="67.00" y="741.00" font-size="9.8" fill="#000" stroke="#000" stroke-width="0.25" textLength="54.70" lengthAdjust="spacingAndGlyphs">10 Aug 2020</text>
<rect x="133" y="729" width="1" height="3" fill="#000"/>
<text x="131.00" y="741.00" font-size="9.8" fill="#000" stroke="#000" stroke-width="0.25" textLength="54.70" lengthAdjust="spacingAndGlyphs">19 Aug 2020</text>
<rect x="197" y="729" width="1" height="3" fill="#000"/>
<text x="196.00" y="741.00" font-size="9.8" fill="#000" stroke="#000" stroke-width="0.25" textLength="54.70" lengthAdjust="spacingAndGlyphs">28 Aug 2020</text>
<rect x="261" y="729" width="1" height="3" fill="#000"/>
<text x="260.00" y="741.00" font-size="9.8" fill="#000" stroke="#000" stroke-width="0.25" textLength="48.10" lengthAdjust="spacingAndGlyphs">7 Sep 2020</text>
<rect x="325" y="729" width="1" height="3" fill="#000"/>
<text x="323.00" y="741.00" font-size="9.8" fill="#000" stroke="#000" stroke-width="0.25" textLength="53.20" lengthAdjust="spacingAndGlyphs">16 Sep 2020</text>
<rect x="389" y="729" width="1" height="3" fill="#000"/>
<text x="388.00" y="741.00" font-size="9.8" fill="#000" stroke="#000" stroke-width="0.25" textLength="52.20" lengthAdjust="spacingAndGlyphs">25 Sep 2020</text>
<rect x="453" y="729" width="1" height="3" fill="#000"/>
<text x="452.00" y="741.00" font-size="9.8" fill="#000" stroke="#000" stroke-width="0.25" textLength="46.30" lengthAdjust="spacingAndGlyphs">5 Oct 2020</text>
<rect x="517" y="729" width="1" height="3" fill="#000"/>
<text x="515.00" y="741.00" font-size="9.8" fill="#000" stroke="#000" stroke-width="0.25" textLength="52.40" lengthAdjust="spacingAndGlyphs">14 Oct 2020</text>
<rect x="581" y="729" width="1" height="3" fill="#000"/>
<text x="580.00" y="741.00" font-size="9.8" fill="#000" stroke="#000" stroke-width="0.25" textLength="51.40" lengthAdjust="spacingAndGlyphs">23 Oct 2020</text>
<rect x="645" y="729" width="1" height="3" fill="#000"/>
<text x="644.00" y="741.00" font-size="9.8" fill="#000" stroke="#000" stroke-width="0.25" textLength="49.80" lengthAdjust="spacingAndGlyphs">2 Nov 2020</text>
<rect x="709" y="729" width="1" height="3" fill="#000"/>
<text x="707.00" y="741.00" font-size="9.8" fill="#000" stroke="#000" stroke-width="0.25" textLength="56.70" lengthAdjust="spacingAndGlyphs">11 Nov 2020</text>
<rect x="773" y="729" width="1" height="3" fill="#000"/>
<text x="772.00" y="741.00" font-size="9.8" fill="#000" stroke="#000" stroke-width="0.25" textLength="54.10" lengthAdjust="spacingAndGlyphs">20 Nov 2020</text>
<rect x="837" y="729" width="1" height="3" fill="#000"/>
<text x="836.00" y="741.00" font-size="9.8" fill="#000" stroke="#000" stroke-width="0.25" textLength="54.70" lengthAdjust="spacingAndGlyphs">30 Nov 2020</text>
<rect x="901" y="729" width="1" height="3" fill="#000"/>
<text x="900.00" y="741.00" font-size="9.8" fill="#000" stroke="#000" stroke-width="0.25" textLength="48.20" lengthAdjust="spacingAndGlyphs">9 Dec 2020</text>
<rect x="965" y="729" width="1" height="3" fill="#000"/>
<text x="963.00" y="741.00" font-size="9.8" fill="#000" stroke="#000" stroke-width="0.25" textLength="54.50" lengthAdjust="spacingAndGlyphs">18 Dec 2020</text>
<rect x="1029" y="729" width="1" height="3" fill="#000"/>
<text x="1028.00" y="741.00" font-size="9.8" fill="#000" stroke="#000" stroke-width="0.25" textLength="52.70" lengthAdjust="spacingAndGlyphs">29 Dec 2020</text>
<rect x="1093" y="729" width="1" height="3" fill="#000"/>
<text x="1092.00" y="741.00" font-size="9.8" fill="#000" stroke="#000" stroke-width="0.25" textLength="45.30" lengthAdjust="spacingAndGlyphs">8 Jan 2021</text>
<rect x="1157" y="729" width="1" height="3" fill="#000"/>
<text x="1155.00" y="741.00" font-size="9.8" fill="#000" stroke="#000" stroke-width="0.25" textLength="50.90" lengthAdjust="spacingAndGlyphs">18 Jan 2021</text>
<rect x="1221" y="729" width="1" height="3" fill="#000"/>
<text x="1220.00" y="741.00" font-size="9.8" fill="#000" stroke="#000" stroke-width="0.25" textLength="51.50" lengthAdjust="spacingAndGlyphs">27 Jan 2021</text>
<rect x="0" y="751" width="6" height="1" fill="#000"/>
<rect x="110" y="751" width="1530" height="1" fill="#000"/>
<rect x="0" y="752" width="6" height="19" fill="#f0f0f0"/>
<rect x="0" y="752" width="1" height="19" fill="#a0a0a0"/>
<rect x="1" y="752" width="1" height="19" fill="#696969"/>
<rect x="2" y="752" width="4" height="19" fill="#f0f0f0"/>
<rect x="6" y="750" width="104" height="20" fill="#ffffff"/>
<rect x="0" y="751" width="6" height="1" fill="#000"/>
<rect x="6" y="751" width="1" height="19" fill="#000"/>
<rect x="109" y="751" width="1" height="19" fill="#000"/>
<rect x="6" y="769" width="104" height="1" fill="#000"/>
<rect x="7" y="750" width="102" height="19" fill="#ffffff"/>
<text x="18.00" y="766.00" font-size="12" fill="#000" stroke="#000" stroke-width="0" textLength="80.50" lengthAdjust="spacingAndGlyphs">EURUSD,Daily</text>
<rect x="210" y="754" width="1" height="14" fill="#696969"/>
<rect x="314" y="754" width="1" height="14" fill="#696969"/>
<rect x="418" y="754" width="1" height="14" fill="#696969"/>
<rect x="522" y="754" width="1" height="14" fill="#696969"/>
<rect x="626" y="754" width="1" height="14" fill="#696969"/>
<rect x="718" y="754" width="1" height="14" fill="#696969"/>
<rect x="834" y="754" width="1" height="14" fill="#696969"/>
<rect x="906" y="754" width="1" height="14" fill="#696969"/>
<rect x="986" y="754" width="1" height="14" fill="#696969"/>
<rect x="1066" y="754" width="1" height="14" fill="#696969"/>
<rect x="1146" y="754" width="1" height="14" fill="#696969"/>
<rect x="1222" y="754" width="1" height="14" fill="#696969"/>
<rect x="1322" y="754" width="1" height="14" fill="#696969"/>
<rect x="1406" y="754" width="1" height="14" fill="#696969"/>
<rect x="1486" y="754" width="1" height="14" fill="#696969"/>
<rect x="1586" y="754" width="1" height="14" fill="#696969"/>
<g clip-path="url(#tabclip)">
<text x="119.50" y="766.00" font-size="12" fill="#6d6d6d" stroke="#6d6d6d" stroke-width="0" textLength="80.00" lengthAdjust="spacingAndGlyphs">USDCHF,Daily</text>
<text x="220.40" y="766.00" font-size="12" fill="#6d6d6d" stroke="#6d6d6d" stroke-width="0" textLength="83.60" lengthAdjust="spacingAndGlyphs">AUDUSD,Daily</text>
<text x="324.40" y="766.00" font-size="12" fill="#6d6d6d" stroke="#6d6d6d" stroke-width="0" textLength="82.00" lengthAdjust="spacingAndGlyphs">USDCAD,Daily</text>
<text x="427.20" y="766.00" font-size="12" fill="#6d6d6d" stroke="#6d6d6d" stroke-width="0" textLength="84.30" lengthAdjust="spacingAndGlyphs">USDCNH,Daily</text>
<text x="533.20" y="766.00" font-size="12" fill="#6d6d6d" stroke="#6d6d6d" stroke-width="0" textLength="81.60" lengthAdjust="spacingAndGlyphs">EURUSD,Daily</text>
<text x="637.30" y="766.00" font-size="12" fill="#6d6d6d" stroke="#6d6d6d" stroke-width="0" textLength="69.60" lengthAdjust="spacingAndGlyphs">GBPUSD,H4</text>
<text x="726.90" y="766.00" font-size="12" fill="#6d6d6d" stroke="#6d6d6d" stroke-width="0" textLength="97.20" lengthAdjust="spacingAndGlyphs">XAUUSD,Weekly</text>
<text x="844.00" y="766.00" font-size="12" fill="#6d6d6d" stroke="#6d6d6d" stroke-width="0" textLength="51.30" lengthAdjust="spacingAndGlyphs">HK50,H1</text>
<text x="916.30" y="766.00" font-size="12" fill="#6d6d6d" stroke="#6d6d6d" stroke-width="0" textLength="59.30" lengthAdjust="spacingAndGlyphs">UK100,H1</text>
<text x="996.20" y="766.00" font-size="12" fill="#6d6d6d" stroke="#6d6d6d" stroke-width="0" textLength="59.30" lengthAdjust="spacingAndGlyphs">UK100,H1</text>
<text x="1076.40" y="766.00" font-size="12" fill="#6d6d6d" stroke="#6d6d6d" stroke-width="0" textLength="59.30" lengthAdjust="spacingAndGlyphs">GER30,H1</text>
<text x="1155.00" y="766.00" font-size="12" fill="#6d6d6d" stroke="#6d6d6d" stroke-width="0" textLength="56.50" lengthAdjust="spacingAndGlyphs">FRA40,H1</text>
<text x="1232.30" y="766.00" font-size="12" fill="#6d6d6d" stroke="#6d6d6d" stroke-width="0" textLength="78.30" lengthAdjust="spacingAndGlyphs">USOil,Weekly</text>
<text x="1331.70" y="766.00" font-size="12" fill="#6d6d6d" stroke="#6d6d6d" stroke-width="0" textLength="63.40" lengthAdjust="spacingAndGlyphs">USDJPY,H1</text>
<text x="1415.70" y="766.00" font-size="12" fill="#6d6d6d" stroke="#6d6d6d" stroke-width="0" textLength="60.10" lengthAdjust="spacingAndGlyphs">DJ30,Daily</text>
<text x="1495.00" y="766.00" font-size="12" fill="#6d6d6d" stroke="#6d6d6d" stroke-width="0" textLength="81.70" lengthAdjust="spacingAndGlyphs">CHINA300,H1</text>
<text x="1596.80" y="766.00" font-size="12" fill="#6d6d6d" stroke="#6d6d6d" stroke-width="0" textLength="78.00" lengthAdjust="spacingAndGlyphs">USDCHF,Daily</text>
</g>
<rect x="1609" y="752" width="31" height="18" fill="#f0f0f0"/>
<path d="M1616.5 757 L1613 760.5 L1616.5 764 Z" fill="#a0a0a0"/>
<path d="M1632 757 L1635.5 760.5 L1632 764 Z" fill="#000"/></svg>
</body></html>
